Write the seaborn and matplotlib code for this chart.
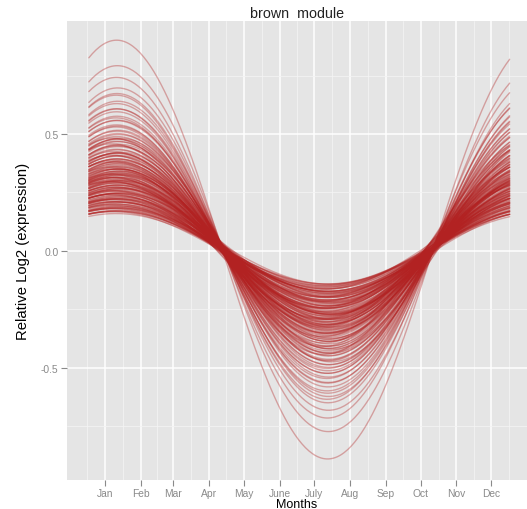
import numpy as np
import pandas as pd
import matplotlib
matplotlib.use("Agg")
import matplotlib.pyplot as plt
import seaborn as sns

# ---- data ----
month_labels = ["Jan", "Feb", "Mar", "Apr", "May", "June", "July", "Aug", "Sep", "Oct", "Nov", "Dec"]
month_days = [1, 32, 60, 91, 121, 152, 182, 213, 244, 274, 305, 335]
y_ticks = [-0.5, 0.0, 0.5]

# fitted cosinor curves (period one year): amplitude, peak day, offset per gene
amplitude = [0.895, 0.782, 0.728, 0.689, 0.661, 0.650, 0.631, 0.619, 0.603, 0.594, 0.580, 0.569, 0.557, 0.549, 0.540, 0.531, 0.523, 0.516,
             0.507, 0.499, 0.492, 0.486, 0.478, 0.471, 0.463, 0.457, 0.451, 0.444, 0.438, 0.431, 0.426, 0.419, 0.413, 0.408, 0.402, 0.396, 0.391, 0.386, 0.381, 0.376, 0.372, 0.367, 0.362, 0.358, 0.353,
             0.349, 0.346, 0.342, 0.339, 0.335, 0.332, 0.328, 0.325, 0.321, 0.318, 0.314, 0.311, 0.307, 0.304, 0.300, 0.297, 0.293, 0.290, 0.286, 0.283, 0.279, 0.276, 0.272, 0.269, 0.265, 0.262, 0.258, 0.255, 0.251, 0.248, 0.244, 0.241, 0.237, 0.234, 0.230, 0.227, 0.223, 0.220, 0.216, 0.213, 0.209, 0.206, 0.202,
             0.199, 0.195, 0.191, 0.187, 0.183, 0.179, 0.175, 0.171, 0.167, 0.163, 0.159, 0.155, 0.151,
             0.478, 0.462, 0.447, 0.433, 0.421, 0.409, 0.398, 0.388, 0.379, 0.369,
             0.361, 0.354, 0.347, 0.340, 0.334, 0.327, 0.321, 0.315, 0.309, 0.303,
             0.298, 0.292, 0.287, 0.281, 0.276, 0.270, 0.265, 0.260, 0.254, 0.249,
             0.244, 0.239, 0.233, 0.228, 0.223, 0.218, 0.213, 0.208, 0.203, 0.198,
             0.193, 0.188, 0.183, 0.178, 0.173, 0.168, 0.163, 0.158, 0.285, 0.310]
peak_day = [11.0, 11.6, 10.9, 11.8, 11.2, 10.6, 11.9, 11.1, 10.7, 11.5, 10.9, 11.3, 10.4, 11.7, 11.0, 10.8, 11.4, 10.5,
            12.2, 11.5, 12.4, 11.8, 11.2, 12.0, 11.6, 12.3, 11.1, 11.7, 11.4, 12.1, 11.0, 11.8, 11.3, 11.9, 10.9, 11.5, 11.2, 11.7, 10.8, 11.4, 11.1, 11.6, 10.7, 11.3, 11.0,
            12.2, 11.6, 12.4, 11.8, 11.3, 12.1, 11.5, 11.9, 11.2, 12.0, 11.4, 11.7, 11.1, 11.9, 11.3, 11.6, 11.0, 11.8, 11.2, 11.5, 10.9, 11.7, 11.1, 11.4, 10.8, 11.6, 11.0, 11.3, 10.7, 11.5, 10.9, 11.2, 10.6, 11.4, 10.8, 11.1, 10.5, 11.3, 10.7, 11.0, 10.4, 11.2, 10.6,
            10.9, 10.3, 11.1, 10.5, 10.8, 10.2, 11.0, 10.4, 10.7, 10.1, 10.9, 10.3, 10.6,
            14.0, 7.5, 13.3, 7.0, 14.4, 8.1, 12.7, 6.6, 13.6, 8.4,
            12.2, 7.3, 13.4, 6.4, 14.1, 7.8, 12.9, 6.8, 14.5, 8.2,
            12.4, 6.2, 13.8, 7.6, 13.1, 6.5, 14.3, 8.0, 12.6, 6.1,
            13.5, 7.4, 13.2, 6.9, 13.9, 8.3, 12.3, 6.3, 13.0, 7.9,
            13.7, 6.7, 12.8, 7.7, 12.1, 7.1, 12.5, 7.2, 14.2, 6.0]
offset = [0.006, 0.010, 0.014, 0.008, 0.012, 0.016, 0.009, 0.011, 0.005, 0.013, 0.015, 0.007, 0.012, 0.010, 0.017, 0.008, 0.011, 0.014,
          0.009, 0.013, 0.006, 0.016, 0.011, 0.008, 0.014, 0.010, 0.018, 0.007, 0.012, 0.015, 0.009, 0.013, 0.005, 0.011, 0.016, 0.010, 0.014, 0.008, 0.012, 0.017, 0.009, 0.013, 0.011, 0.006, 0.015,
          0.010, 0.014, 0.008, 0.012, 0.016, 0.009, 0.013, 0.011, 0.007, 0.015, 0.010, 0.018, 0.008, 0.012, 0.014, 0.009, 0.016, 0.011, 0.006, 0.013, 0.010, 0.015, 0.008, 0.012, 0.017, 0.009, 0.014, 0.011, 0.007, 0.013, 0.010, 0.016, 0.008, 0.012, 0.015, 0.009, 0.014, 0.011, 0.006, 0.013, 0.010, 0.017, 0.008,
          0.012, 0.015, 0.009, 0.014, 0.011, 0.007, 0.013, 0.010, 0.016, 0.008, 0.012, 0.014, 0.009,
          0.004, 0.020, 0.009, 0.025, 0.001, 0.016, 0.011, 0.022, 0.006, 0.018,
          0.013, 0.027, 0.003, 0.019, 0.008, 0.023, 0.012, 0.000, 0.017, 0.010,
          0.024, 0.005, 0.015, 0.021, 0.007, 0.026, 0.002, 0.014, 0.019, 0.009,
          0.022, 0.004, 0.016, 0.012, 0.025, 0.006, 0.018, 0.011, 0.020, 0.003,
          0.015, 0.023, 0.008, 0.017, 0.001, 0.013, 0.021, 0.010, 0.014, 0.018]
day_start, day_end = -13, 351
period = 365.0

# ---- build long table ----
days = np.linspace(day_start, day_end, 240)
rows = []
for gi, (a, p, c) in enumerate(zip(amplitude, peak_day, offset)):
    vals = c + a * np.cos(2 * np.pi * (days - p) / period)
    rows.append(pd.DataFrame({"day": days, "value": vals, "gene": gi}))
df = pd.concat(rows, ignore_index=True)

# ---- style ----
sns.set_theme(style="darkgrid")
plt.rcParams["font.family"] = ["Liberation Sans", "DejaVu Sans"]
grey = "#8A8A8A"

fig = plt.figure(figsize=(5.27, 5.10), dpi=100)
ax = fig.add_axes([67 / 527, 1 - 481 / 510, 460 / 527, 459 / 510])
ax.set_facecolor("#E5E5E5")

sns.lineplot(data=df, x="day", y="value", units="gene", estimator=None,
             color="#B22222", alpha=0.36, linewidth=1.0, ax=ax, legend=False)

ax.set_xlim(-31.9, 366.0)
ax.set_ylim(-0.979, 0.983)

ax.set_xticks(month_days)
ax.set_xticklabels(month_labels)
ax.set_yticks(y_ticks)
ax.set_yticklabels(["-0.5", "0.0", "0.5"])

md = np.array(month_days, dtype=float)
mids = (md[:-1] + md[1:]) / 2
minor_x = np.concatenate([[md[0] - (md[1] - md[0]) / 2], mids, [md[-1] + (md[-1] - md[-2]) / 2]])
ax.set_xticks(minor_x, minor=True)
ax.set_yticks([-0.75, -0.25, 0.25, 0.75], minor=True)

ax.grid(which="major", color="white", linewidth=1.1)
ax.grid(which="minor", color="#F4F4F4", linewidth=0.55)
ax.set_axisbelow(True)
for s in ax.spines.values():
    s.set_visible(False)

ax.tick_params(axis="both", which="major", length=4, width=0.8, color=grey,
               labelcolor=grey, labelsize=7.4, pad=2, bottom=True, left=True)
ax.tick_params(axis="both", which="minor", length=0)

ax.set_xlabel("Months", fontsize=9, color="black", labelpad=0)
ax.set_ylabel("Relative Log2 (expression)", fontsize=10.7, color="black", labelpad=8)
ax.set_title("brown  module", fontsize=10.3, color="#222222", pad=3)

fig.savefig("out.png", dpi=100)
